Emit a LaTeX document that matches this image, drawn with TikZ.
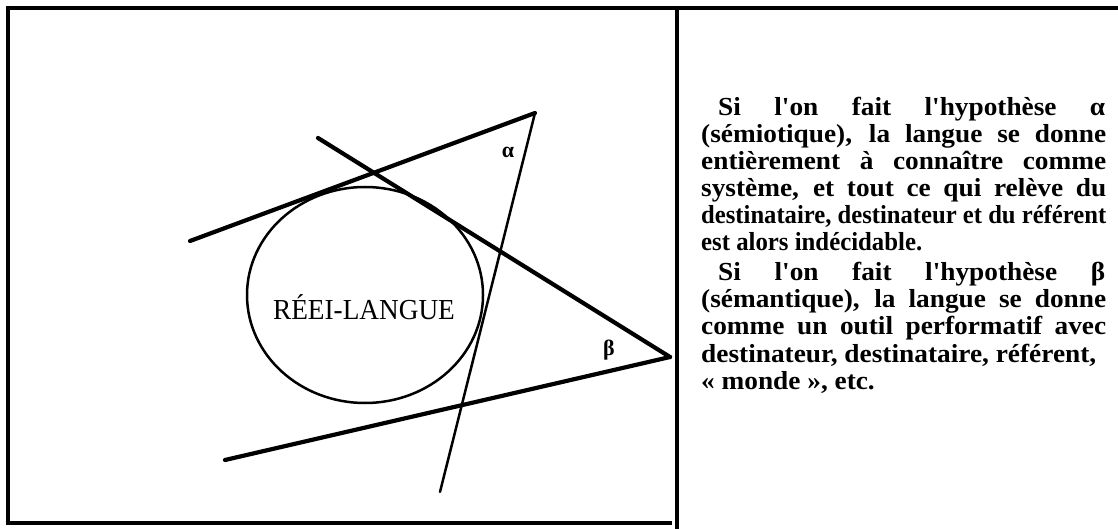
\documentclass[tikz,border=0pt]{standalone}
\usepackage{fontspec}
\usepackage{graphicx}
\usetikzlibrary{shapes.geometric}
\setmainfont{Liberation Serif}
\newfontfamily\txtfont{Liberation Serif}[FakeStretch=1.05]
\newfontfamily\lblfont{Liberation Serif}[FakeStretch=0.94]
\begin{document}
\begin{tikzpicture}[x=1pt,y=-1pt,
  frame/.style={line width=3.2pt},
  thick line/.style={line width=4.2pt},
  thin line/.style={line width=2.5pt},
  txt/.style={anchor=base west, inner sep=0pt, font=\txtfont\bfseries\fontsize{26}{28}\selectfont},
  greek/.style={inner sep=0pt, font=\bfseries\fontsize{22}{24}\selectfont}]
\useasboundingbox (0,0) rectangle (1118,529);
% frame
\coordinate (TL) at (8,8);
\coordinate (TR) at (1118,8);
\coordinate (BL) at (8,523);
\coordinate (BR) at (672,523);
\coordinate (DT) at (677,8);
\coordinate (DB) at (677,529);
\draw[frame] (TR) -- (TL) -- (BL) -- (BR);
\draw[frame] (DT) -- (DB);
% circle
\node[draw, line width=2.5pt, ellipse, minimum width=236pt, minimum height=216pt, inner sep=0pt] (c) at (365,295) {};
\node[inner sep=0pt, font=\lblfont\fontsize{29}{31}\selectfont] (lab) at (364,307) {RÉEI-LANGUE};
% lines
\coordinate (A) at (535,113);
\coordinate (B) at (670,357);
\coordinate (P1) at (190,241);
\coordinate (P2) at (440,492);
\coordinate (P3) at (318,138);
\coordinate (P4) at (225,460);
\draw[thick line, line cap=round] (P1) -- (A);
\draw[thin line, line cap=round] (A) -- (P2);
\draw[thick line, line cap=round] (P3) -- (B);
\draw[thick line, line cap=round] (P4) -- (B);
\node[greek] (alpha) at (508,152) {α};
\node[greek] (beta) at (609,350) {β};
% text
\node[txt] (l1) at (718,116) {\makebox[387pt][s]{Si l'on fait l'hypothèse α}};
\node[txt] (l2) at (701,143) {\makebox[405pt][s]{(sémiotique), la langue se donne}};
\node[txt] (l3) at (701,170) {\makebox[405pt][s]{entièrement à connaître comme}};
\node[txt] (l4) at (701,197) {\makebox[405pt][s]{système, et tout ce qui relève du}};
\node[txt] (l5) at (701,224) {\resizebox{405pt}{\height}{destinataire, destinateur et du référent}};
\node[txt] (l6) at (701,251) {\resizebox{221pt}{\height}{est alors indécidable.}};
\node[txt] (l7) at (718,280) {\makebox[387pt][s]{Si l'on fait l'hypothèse β}};
\node[txt] (l8) at (701,307) {\makebox[405pt][s]{(sémantique), la langue se donne}};
\node[txt] (l9) at (701,334) {\makebox[405pt][s]{comme un outil performatif avec}};
\node[txt] (l10) at (701,362) {\resizebox{395pt}{\height}{destinateur, destinataire, référent,}};
\node[txt] (l11) at (701,389) {«~monde~», etc.};
\end{tikzpicture}
\end{document}
